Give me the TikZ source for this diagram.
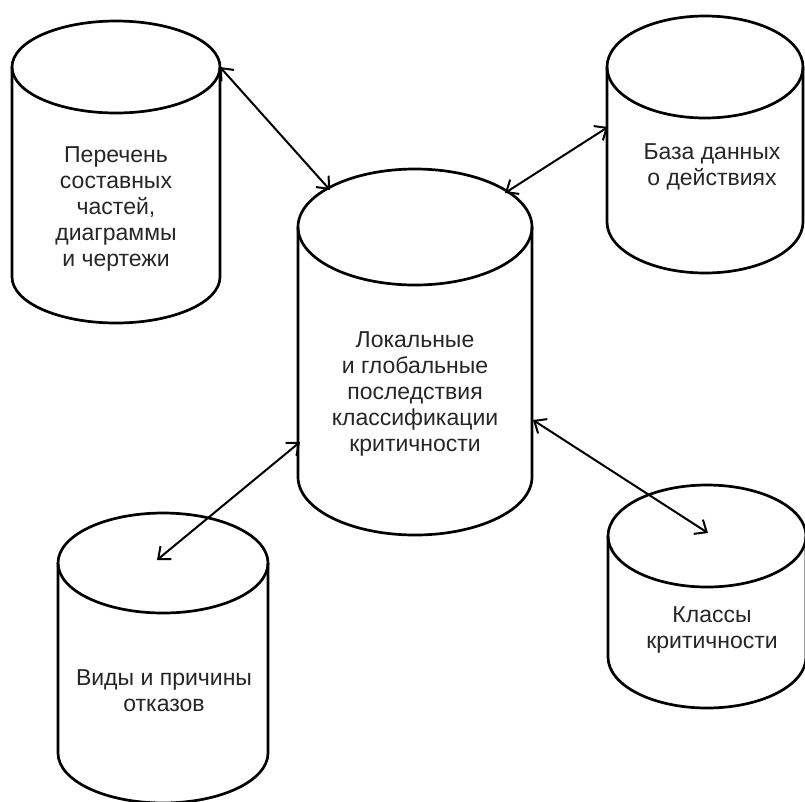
\documentclass[tikz,border=0pt]{standalone}
\usepackage{fontspec}
\setmainfont{Liberation Sans}
\usetikzlibrary{arrows.meta}
\tikzset{
  cylline/.style={line width=2.7pt, line join=round},
  conn/.style={line width=2pt,
    {Straight Barb[length=10pt,width=17pt]}-{Straight Barb[length=10pt,width=17pt]}},
  lbl/.style={align=center, font=\fontsize{23}{26}\selectfont, text=black!85, inner sep=0pt},
}
\newcommand\drawcyl[5]{% cx, top cy, bottom cy, rx, ry
  \draw[cylline] (#1,#2) ellipse [x radius=#4, y radius=#5];
  \draw[cylline] (#1-#4,#2) -- (#1-#4,#3)
    arc[start angle=180, end angle=0, x radius=#4, y radius=#5] -- (#1+#4,#2);
}
\begin{document}
\begin{tikzpicture}[x=1pt,y=-1pt]
\useasboundingbox[fill=white] (0,0) rectangle (805,801);

% cylinders
\drawcyl{116}{67}{277}{104}{46}
\drawcyl{415}{227}{477}{117}{58}
\drawcyl{705}{67}{222}{98}{51}
\drawcyl{163}{563}{753}{105}{50}
\drawcyl{707}{536}{657}{99}{51}

% labels
\node[lbl] (parts) at (116,209) {Перечень\\составных\\частей,\\диаграммы\\и чертежи};
\node[lbl] (effects) at (415,394) {Локальные\\и глобальные\\последствия\\классификации\\критичности};
\node[lbl] (actions) at (712,167) {База данных\\о действиях};
\node[lbl] (modes) at (164,691) {Виды и причины\\отказов};
\node[lbl] (classes) at (712,630) {Классы\\критичности};

% connector end points
\coordinate (p1) at (220,67);
\coordinate (e1) at (330,190);
\coordinate (a1) at (608,127);
\coordinate (e2) at (505,193);
\coordinate (e3) at (300,442);
\coordinate (m1) at (157,560);
\coordinate (e4) at (533,420);
\coordinate (c1) at (708,533);

\draw[conn] (p1) -- (e1);
\draw[conn] (a1) -- (e2);
\draw[conn] (e3) -- (m1);
\draw[conn] (e4) -- (c1);
\end{tikzpicture}
\end{document}
